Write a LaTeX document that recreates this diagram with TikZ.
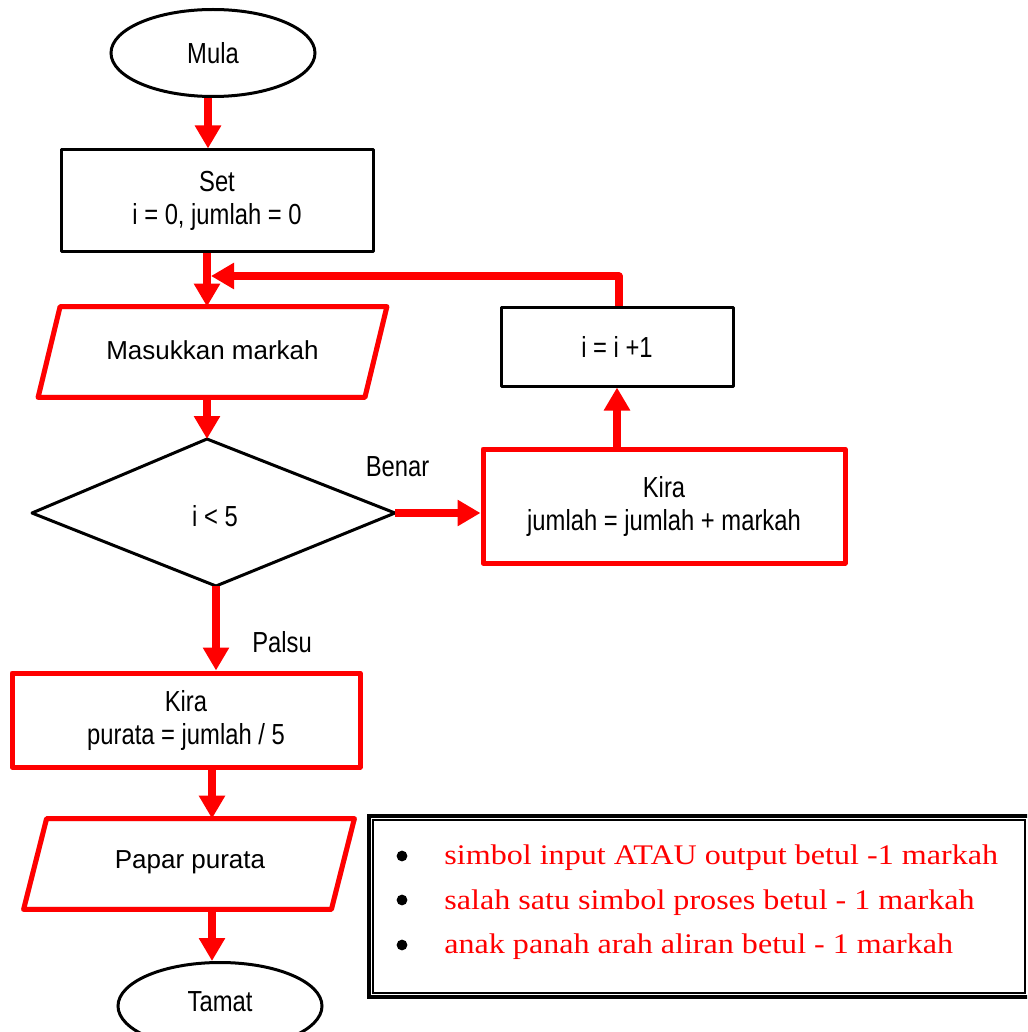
\documentclass[tikz,border=0pt]{standalone}
\usepackage{fontspec}
\setmainfont{Liberation Sans}
\newfontfamily\narrowfont[FakeStretch=0.82]{Liberation Sans}
\newfontfamily\seriffont[FakeStretch=1.13]{Liberation Serif}
\usetikzlibrary{arrows.meta,shapes.geometric,calc}
\definecolor{fred}{RGB}{255,0,0}
\begin{document}
\begin{tikzpicture}[x=0.5pt,y=-0.5pt,
  nfont/.style={font=\narrowfont\fontsize{14.5pt}{16.5pt}\selectfont},
  blackbox/.style={draw=black,line width=1.5pt,rectangle,inner sep=0,align=center,nfont,line join=round},
  redbox/.style={blackbox,draw=fred,line width=2.5pt},
  term/.style={ellipse,draw=black,line width=1.5pt,minimum width=102pt,minimum height=43.5pt,inner sep=0,nfont},
  flow/.style={draw=fred,line width=3.6pt,line join=round,-{Triangle[length=11.5pt,width=12.5pt]}},
  lbl/.style={nfont,inner sep=0},
  iotext/.style={font=\fontsize{13pt}{15pt}\selectfont,inner sep=0},
  iobox/.style={draw=fred,line width=2.5pt,line join=round},
  ioshadow/.style={draw=black!18,line width=2.5pt,line join=round},
  legtext/.style={font=\seriffont\fontsize{14.2pt}{16pt}\selectfont,text=fred,anchor=base west,inner sep=0}
]
\clip (0,0) rectangle (1027,1032);
\fill[white] (0,0) rectangle (1027,1032);

% terminals and boxes
\node[term] (mula) at (213,53) {Mula};
\node[blackbox,minimum width=156pt,minimum height=50.5pt] (set) at (217,200.5) {Set\\i = 0, jumlah = 0};

% input parallelogram
\node[iotext,minimum width=163pt,minimum height=45pt] (masuk) at (212.5,352) {};
\draw[ioshadow,shift={(3,3)}] ([xshift=5.5pt]masuk.north west) -- ([xshift=5.5pt]masuk.north east) -- ([xshift=-5.5pt]masuk.south east) -- ([xshift=-5.5pt]masuk.south west) -- cycle;
\draw[iobox] ([xshift=5.5pt]masuk.north west) -- ([xshift=5.5pt]masuk.north east) -- ([xshift=-5.5pt]masuk.south east) -- ([xshift=-5.5pt]masuk.south west) -- cycle;
\node[iotext] (masuktext) at (212.5,350) {Masukkan markah};

% decision
\coordinate (dt) at (207,439);
\coordinate (dr) at (395,513);
\coordinate (db) at (216,586);
\coordinate (dl) at (32,513);
\draw[black,line width=1.5pt,line join=round] (dt) -- (dr) -- (db) -- (dl) -- cycle;
\node[lbl] (dec) at (215,516) {i < 5};

% right branch
\node[redbox,minimum width=181pt,minimum height=57pt] (kira1) at (664,506) {Kira\\jumlah = jumlah + markah};
\node[blackbox,minimum width=116pt,minimum height=39.5pt] (inc) at (617,346.5) {i = i +1};

% lower part
\node[redbox,minimum width=174pt,minimum height=47pt] (kira2) at (186,720) {Kira\\purata = jumlah / 5};
\node[iotext,minimum width=153.5pt,minimum height=45pt] (papar) at (189,864) {};
\draw[ioshadow,shift={(3,3)}] ([xshift=5.75pt]papar.north west) -- ([xshift=5.75pt]papar.north east) -- ([xshift=-5.75pt]papar.south east) -- ([xshift=-5.75pt]papar.south west) -- cycle;
\draw[iobox] ([xshift=5.75pt]papar.north west) -- ([xshift=5.75pt]papar.north east) -- ([xshift=-5.75pt]papar.south east) -- ([xshift=-5.75pt]papar.south west) -- cycle;
\node[iotext] (papartext) at (190,862) {Papar purata};
\node[term] (tamat) at (220,1006) {};
\node[lbl] (tamattext) at (220,1002) {Tamat};

% labels
\node[lbl] (benar) at (397.5,467) {Benar};
\node[lbl] (palsu) at (282,642) {Palsu};

% connectors
\draw[flow] ([xshift=-2.5pt]mula.south) -- ([xshift=-2.5pt]mula.south |- set.north);
\draw[flow] ([xshift=-5pt]set.south) -- ([xshift=-5pt]set.south |- masuk.north);
\draw[flow] (dt |- masuk.south) -- (dt);
\draw[flow] (dr) -- (dr -| kira1.west);
\draw[flow] (inc.south |- kira1.north) -- (inc.south);
\coordinate (loopend) at (211,276);
\draw[flow] ([xshift=1pt]inc.north) |- (loopend);
\draw[flow] (db) -- (db |- kira2.north);
\draw[flow] ([xshift=13pt]kira2.south) -- ([xshift=13pt]kira2.south |- papar.north);
\draw[flow] ([xshift=11.5pt]papar.south) -- ([xshift=11.5pt]papar.south |- tamat.north);

% legend
\node[draw=black,line width=2pt,minimum width=331pt,minimum height=90.5pt,inner sep=0] (legend) at (699.5,906.5) {};
\draw[black,line width=1pt] ([shift={(6,6)}]legend.north west) rectangle (1025,993);
\fill[black] (402,856) circle[radius=2.7pt];
\fill[black] (402,900) circle[radius=2.7pt];
\fill[black] (402,945) circle[radius=2.7pt];
\node[legtext] (l1) at (444,864) {simbol input ATAU output betul -1 markah};
\node[legtext] (l2) at (444,909) {salah satu simbol proses betul - 1 markah};
\node[legtext] (l3) at (444,953) {anak panah arah aliran betul - 1 markah};
\end{tikzpicture}
\end{document}
